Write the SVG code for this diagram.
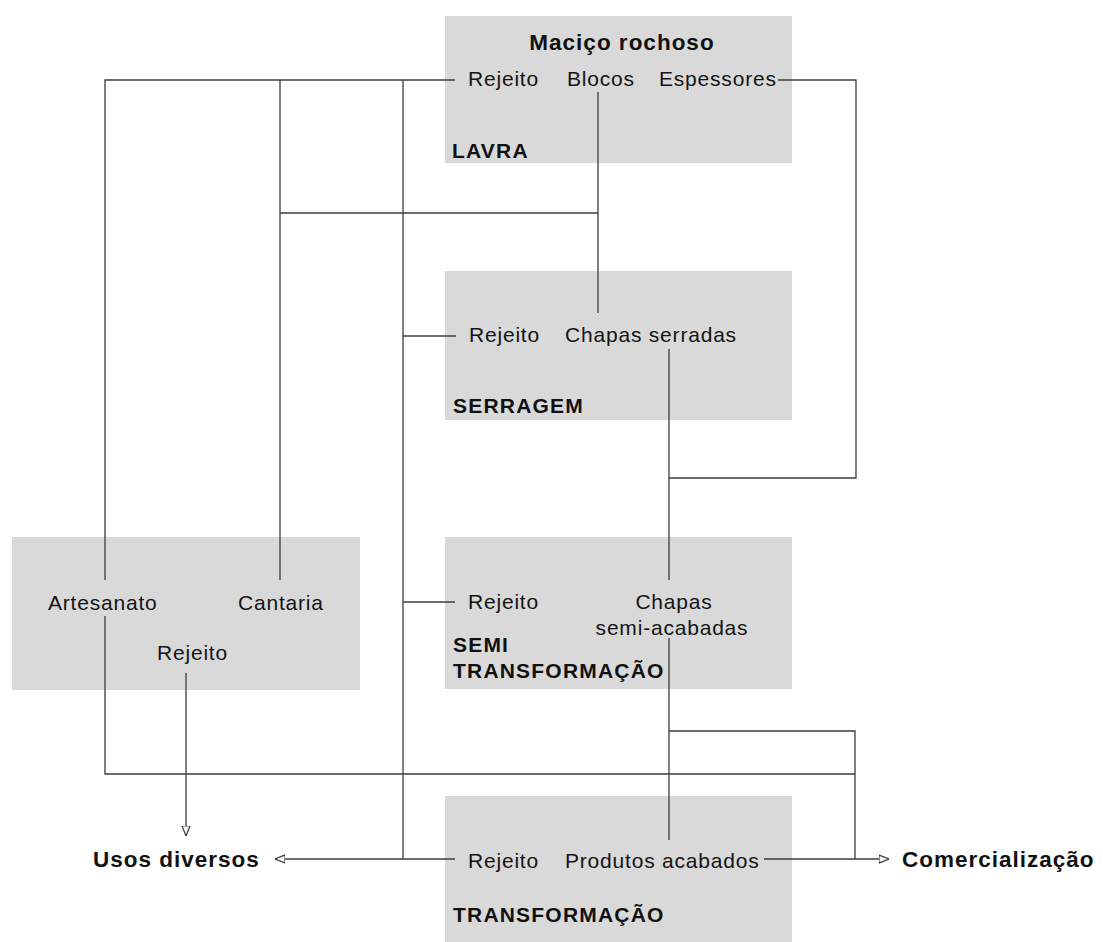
<svg xmlns="http://www.w3.org/2000/svg" width="1103" height="942" viewBox="0 0 1103 942">
<style>
.box{fill:#d9d9d9}
.t{font-family:"Liberation Sans",Arial,sans-serif;font-size:21px;fill:#141414;letter-spacing:0.8px}
.b{font-family:"Liberation Sans",Arial,sans-serif;font-size:21px;font-weight:bold;fill:#111;letter-spacing:1.2px}
.h{font-family:"Liberation Sans",Arial,sans-serif;font-size:22.5px;font-weight:bold;fill:#111;letter-spacing:1px}
.c{fill:none;stroke:#3c3c3c;stroke-width:1.3}
</style>
<defs>
<marker id="arr" viewBox="0 0 10 10" refX="10" refY="5" markerWidth="10" markerHeight="10" markerUnits="userSpaceOnUse" orient="auto">
<path d="M0,1 L10,5 L0,9 Z" fill="#fff" stroke="#3c3c3c" stroke-width="1.2"/>
</marker>
</defs>
<rect width="1103" height="942" fill="#fff"/>

<g id="lavra">
<rect class="box" x="445" y="16" width="347" height="147"/>
<text class="h" x="622" y="50" text-anchor="middle">Maciço rochoso</text>
<text class="t" x="468" y="86">Rejeito</text>
<text class="t" x="567" y="86">Blocos</text>
<text class="t" x="659" y="86">Espessores</text>
<text class="b" x="452" y="158">LAVRA</text>
</g>

<g id="serragem">
<rect class="box" x="445" y="271" width="347" height="149"/>
<text class="t" x="469" y="342">Rejeito</text>
<text class="t" x="565" y="342">Chapas serradas</text>
<text class="b" x="453" y="413">SERRAGEM</text>
</g>

<g id="semi">
<rect class="box" x="445" y="537" width="347" height="152"/>
<text class="t" x="468" y="609">Rejeito</text>
<text class="t" x="674" y="609" text-anchor="middle">Chapas</text>
<text class="t" x="672" y="635" text-anchor="middle">semi-acabadas</text>
<text class="b" x="453" y="652">SEMI</text>
<text class="b" x="453" y="678">TRANSFORMAÇÃO</text>
</g>

<g id="artesanal">
<rect class="box" x="12" y="537" width="348" height="153"/>
<text class="t" x="48" y="610">Artesanato</text>
<text class="t" x="238" y="610">Cantaria</text>
<text class="t" x="157" y="660">Rejeito</text>
</g>

<g id="transformacao">
<rect class="box" x="445" y="796" width="347" height="146"/>
<text class="t" x="468" y="868">Rejeito</text>
<text class="t" x="565" y="868">Produtos acabados</text>
<text class="b" x="453" y="922">TRANSFORMAÇÃO</text>
</g>

<g id="usos">
<text class="h" x="93" y="867">Usos diversos</text>
</g>

<g id="comercializacao">
<text class="h" x="902" y="867">Comercialização</text>
</g>

<g id="connectors">
<path class="c" d="M455,80 H105 V580"/>
<path class="c" d="M105,616 V774 H855"/>
<path class="c" d="M280,80 V580"/>
<path class="c" d="M280,213 H598"/>
<path class="c" d="M598,92 V313"/>
<path class="c" d="M403,80 V859"/>
<path class="c" d="M403,336 H456"/>
<path class="c" d="M403,602 H455"/>
<path class="c" d="M455,859 H275" marker-end="url(#arr)"/>
<path class="c" d="M778,80 H856 V478 H669"/>
<path class="c" d="M669,349 V580"/>
<path class="c" d="M669,638 V840"/>
<path class="c" d="M669,731 H855 V859"/>
<path class="c" d="M186,673 V836" marker-end="url(#arr)"/>
<path class="c" d="M764,859 H889" marker-end="url(#arr)"/>
</g>
</svg>
